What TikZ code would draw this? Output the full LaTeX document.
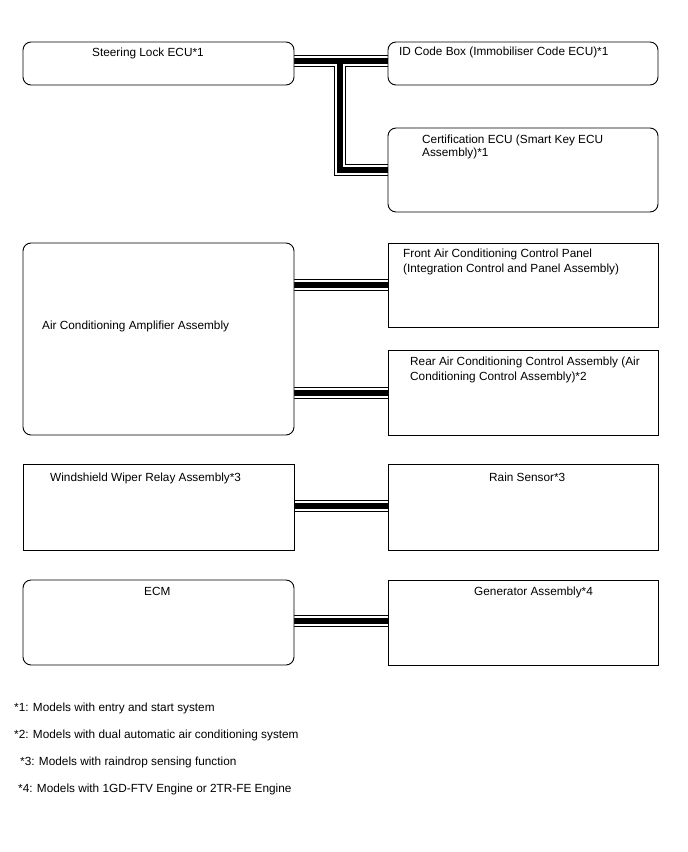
\documentclass[tikz,border=0pt]{standalone}
\usepackage{fontspec}
\setmainfont{Liberation Sans}
\usetikzlibrary{backgrounds}
\begin{document}
\begin{tikzpicture}[x=1pt,y=-1pt,
  font=\fontsize{11.8}{14}\selectfont,
  box/.style={draw=black, line width=0.9pt, fill=white, anchor=north west, inner sep=0pt, outer sep=0pt},
  rbox/.style={box, rounded corners=8pt},
  lbl/.style={anchor=base west, inner sep=0pt, align=left},
  bus/.style={line width=12pt, draw=black,
    postaction={draw=white, line width=10pt},
    postaction={draw=black, line width=6pt}}]
\useasboundingbox (0,0) rectangle (688,852);

% boxes
\node[rbox, minimum width=271pt, minimum height=43pt] (steer) at (23,42) {};
\node[rbox, minimum width=270pt, minimum height=43pt] (idbox) at (388,42) {};
\node[rbox, minimum width=270pt, minimum height=84pt] (cert) at (388,128) {};
\node[rbox, minimum width=271pt, minimum height=192pt] (amp) at (23,243) {};
\node[box, minimum width=270pt, minimum height=84pt] (front) at (388,243) {};
\node[box, minimum width=270pt, minimum height=85pt] (rear) at (388,350) {};
\node[box, minimum width=271pt, minimum height=86pt] (wiper) at (23,464) {};
\node[box, minimum width=270pt, minimum height=86pt] (rain) at (388,464) {};
\node[rbox, minimum width=271pt, minimum height=85pt] (ecm) at (23,580) {};
\node[box, minimum width=270pt, minimum height=85pt] (gen) at (388,580) {};

\coordinate (tj) at (340,61);

% connectors
\begin{scope}[on background layer]
\draw[bus] ([yshift=2.5pt]steer.east) -- ([yshift=2.5pt]idbox.west)
           (tj) |- (cert.west);
\draw[bus] (amp.east |- front.west) -- (front.west);
\draw[bus] ([yshift=-0.5pt]amp.east |- rear.west) -- ([yshift=-0.5pt]rear.west);
\draw[bus] ([yshift=1pt]wiper.east) -- ([yshift=1pt]rain.west);
\draw[bus] ([yshift=1.5pt]ecm.east) -- ([yshift=1.5pt]gen.west);
\end{scope}

% texts (multi-line nodes are placed by the baseline of their last line)
\node[lbl] (tsteer) at (92,56) {Steering Lock ECU*1};
\node[lbl] (tid) at (399,55) {ID Code Box (Immobiliser Code ECU)*1};
\node[lbl, font=\fontsize{11.8}{13.5}\selectfont] (tcert) at (422,156.5) {Certification ECU (Smart Key ECU\\Assembly)*1};
\node[lbl] (tamp) at (42,329) {Air Conditioning Amplifier Assembly};
\node[lbl, font=\fontsize{11.8}{15}\selectfont] (tfront) at (403,272.5) {Front Air Conditioning Control Panel\\(Integration Control and Panel Assembly)};
\node[lbl, font=\fontsize{11.8}{15}\selectfont] (trear) at (410,380.5) {Rear Air Conditioning Control Assembly (Air\\Conditioning Control Assembly)*2};
\node[lbl] (twiper) at (50,481) {Windshield Wiper Relay Assembly*3};
\node[lbl] (train) at (489,481) {Rain Sensor*3};
\node[lbl] (tecm) at (144,595) {ECM};
\node[lbl] (tgen) at (474,595) {Generator Assembly*4};

% footnotes
\node[lbl] (n1) at (14,711) {*1: Models with entry and start system};
\node[lbl] (n2) at (14,738) {*2: Models with dual automatic air conditioning system};
\node[lbl] (n3) at (20,765) {*3: Models with raindrop sensing function};
\node[lbl] (n4) at (18,792) {*4: Models with 1GD-FTV Engine or 2TR-FE Engine};
\end{tikzpicture}
\end{document}
